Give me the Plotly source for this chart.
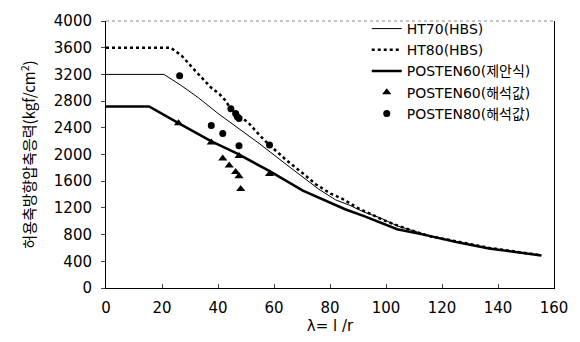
import plotly.graph_objects as go

# HT70(HBS) curve
ht70_x = [0, 20.7, 27, 33, 40, 47, 55, 64.4, 70.3, 76, 82, 87, 92, 98, 104, 110, 115, 125, 137, 155.5]
ht70_y = [3200, 3200, 3030, 2850, 2615, 2400, 2156, 1850, 1660, 1480, 1320, 1240, 1140, 1050, 930, 855, 790, 690, 592, 487]

# HT80(HBS) curve
ht80_x = [0, 23.1, 27, 30.4, 32.2, 37.5, 40.6, 42.7, 44.5, 51, 55, 58.5, 64.4, 70.7, 74.9, 80.2, 84.3, 90, 95.2, 99.4, 104.6, 110, 115.2, 125, 137, 155.5]
ht80_y = [3600, 3600, 3480, 3311, 3239, 3004, 2902, 2806, 2686, 2469, 2281, 2137, 1916, 1704, 1555, 1415, 1339, 1198, 1097, 1011, 928, 856, 780, 700, 600, 490]

# POSTEN60(제안식) curve
p60_x = [0, 15.4, 25.9, 37.5, 46.9, 58.6, 70.3, 81.9, 85.4, 92.4, 104, 113.4, 125.1, 136.8, 155.5]
p60_y = [2720, 2720, 2469, 2200, 2012, 1747, 1458, 1242, 1180, 1073, 881, 800, 689, 592, 487]

# POSTEN60(해석값) points
p60a_x = [25.9, 37.6, 41.7, 44.0, 46.3, 47.5, 48.1, 47.5, 58.4]
p60a_y = [2469, 2180, 1939, 1834, 1737, 1675, 1483, 1978, 1708]

# POSTEN80(해석값) points
p80a_x = [26.3, 37.6, 41.7, 47.5, 44.6, 46.3, 46.9, 47.5, 58.4]
p80a_y = [3181, 2436, 2315, 2132, 2686, 2614, 2566, 2541, 2141]

x_ticks = [0, 20, 40, 60, 80, 100, 120, 140, 160]
y_ticks = [0, 400, 800, 1200, 1600, 2000, 2400, 2800, 3200, 3600, 4000]

fig = go.Figure()
fig.add_trace(go.Scatter(x=ht70_x, y=ht70_y, mode="lines", name="HT70(HBS)",
                         line=dict(color="black", width=1)))
fig.add_trace(go.Scatter(x=ht80_x, y=ht80_y, mode="lines", name="HT80(HBS)",
                         line=dict(color="black", width=2.5, dash="dot")))
fig.add_trace(go.Scatter(x=p60_x, y=p60_y, mode="lines", name="POSTEN60(제안식)",
                         line=dict(color="black", width=2.5)))
fig.add_trace(go.Scatter(x=p60a_x, y=p60a_y, mode="markers", name="POSTEN60(해석값)",
                         marker=dict(symbol="triangle-up", size=8, color="black")))
fig.add_trace(go.Scatter(x=p80a_x, y=p80a_y, mode="markers", name="POSTEN80(해석값)",
                         marker=dict(symbol="circle", size=7, color="black")))

font_main = "DejaVu Sans, Noto Sans CJK KR, sans-serif"

fig.update_layout(
    width=580, height=342,
    margin=dict(l=106, r=17, t=14, b=51),
    paper_bgcolor="white", plot_bgcolor="white",
    font=dict(family=font_main, size=14, color="black"),
    showlegend=True,
    legend=dict(x=0.582, y=1.03, xanchor="left", yanchor="top",
                bgcolor="rgba(0,0,0,0)", borderwidth=0,
                font=dict(family=font_main, size=14),
                tracegroupgap=0, itemwidth=30),
    shapes=[dict(type="line", xref="paper", yref="paper", x0=0, x1=1, y0=1, y1=1,
                 line=dict(color="#888888", width=1, dash="dot"))],
)
fig.update_xaxes(range=[0, 160], tickvals=x_ticks, ticks="inside", ticklen=4,
                 showline=True, linecolor="black", linewidth=1, showgrid=False,
                 zeroline=False, tickfont=dict(size=15), ticklabelstandoff=6,
                 title=dict(text="λ= l /r", font=dict(size=15), standoff=2))
fig.update_yaxes(range=[0, 4000], tickvals=y_ticks, ticks="outside", ticklen=4,
                 showline=True, linecolor="black", linewidth=1, mirror=True,
                 showgrid=False, zeroline=False, tickfont=dict(size=15),
                 ticklabelstandoff=6,
                 title=dict(text="허용축방향압축응력(kgf/cm<sup>2</sup>)",
                            font=dict(family="Noto Sans CJK KR, sans-serif", size=15),
                            standoff=14))

fig.write_html("out.html")
